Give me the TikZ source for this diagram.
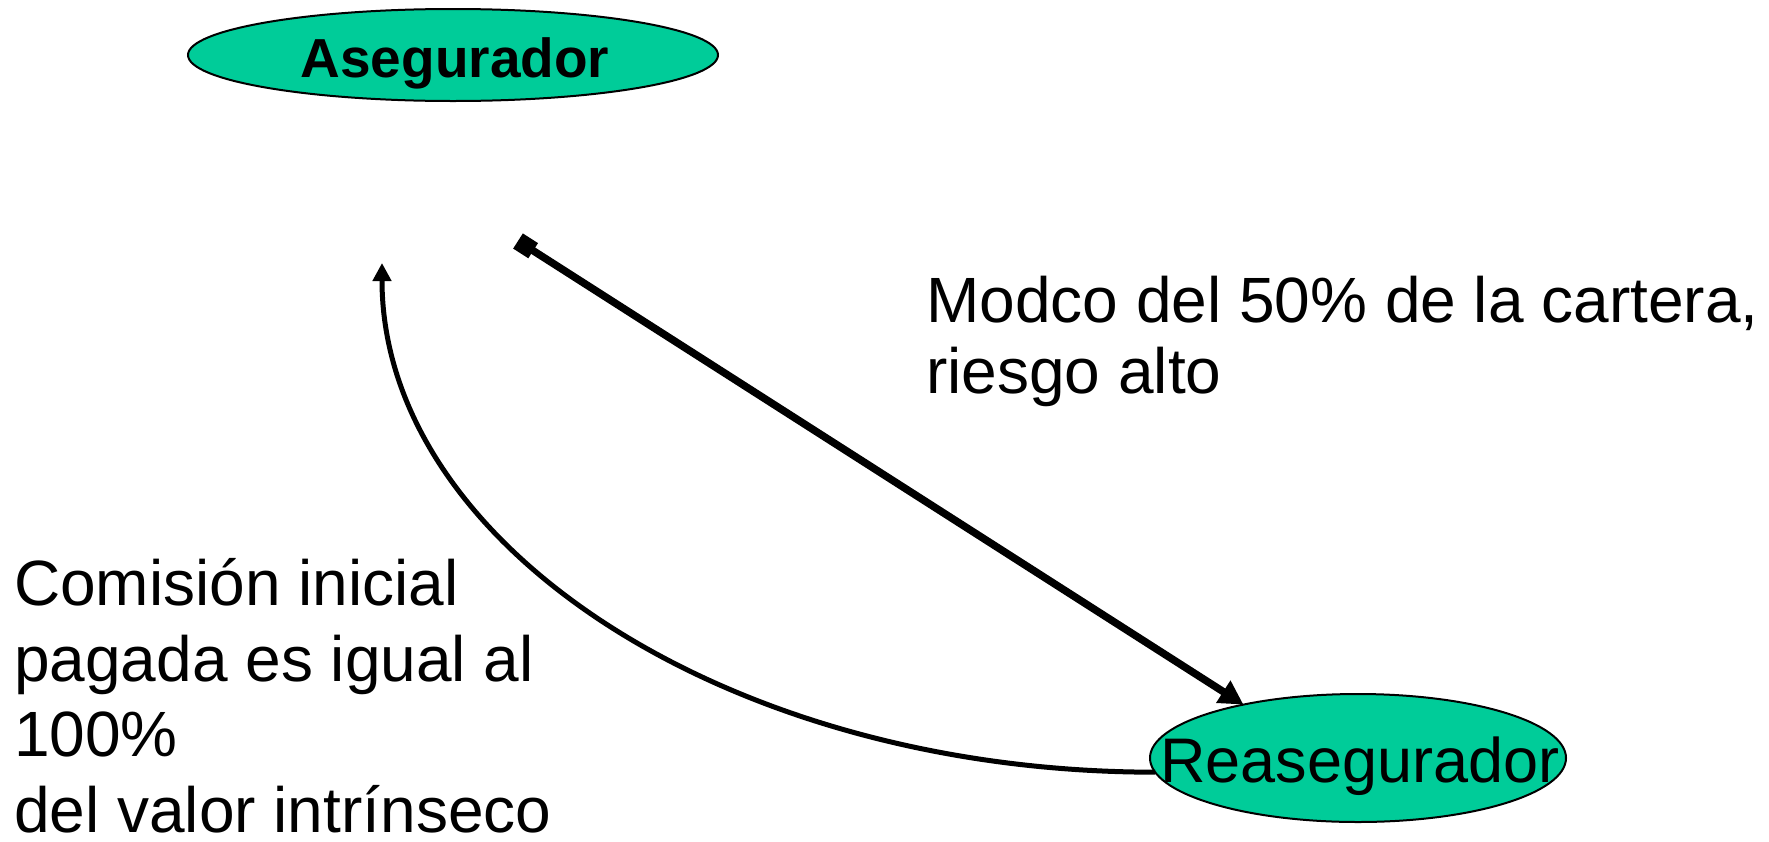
\documentclass[tikz,border=0pt]{standalone}
\usepackage{fontspec}
\setmainfont{Liberation Sans}
\usetikzlibrary{arrows.meta,shapes.geometric}
\definecolor{nodegreen}{HTML}{00CC99}
\begin{document}
\begin{tikzpicture}[x=1pt,y=-1pt,
  oval/.style={ellipse, draw=black, line width=2pt, fill=nodegreen, inner sep=0pt, outer sep=0pt},
  txt/.style={inner sep=0pt, align=left, anchor=base west},
  thickarrow/.style={line width=7.5pt, {Square[length=18pt,width=18pt]}-{Triangle[length=24pt,width=25pt]}},
  thinarrow/.style={line width=5pt, -{Triangle[length=18pt,width=18pt]}}]
\useasboundingbox (0,0) rectangle (1769,841);
\node[oval, minimum width=530pt, minimum height=92pt] (aseg) at (453,55) {};
\node[anchor=base, inner sep=0pt, font=\fontsize{55}{60}\selectfont\bfseries] (asegtext) at (455,77) {Asegurador};
\node[oval, minimum width=416pt, minimum height=128pt] (reas) at (1358,758) {};
\coordinate (sq) at (518,241);
\coordinate (atip) at (382,263);
\draw[thickarrow] (sq) -- (reas.155);
\draw[thinarrow] (reas.184) .. controls (726,772) and (382,544) .. (atip);
\node[anchor=base, inner sep=0pt, font=\fontsize{63}{71}\selectfont] (reastext) at (1360,782) {Reasegurador};
\node[txt, font=\fontsize{64}{71}\selectfont] (modco) at (926,393) {Modco del 50\% de la cartera,\\riesgo alto};
\node[txt, font=\fontsize{64}{75.5}\selectfont] (comision) at (14,832) {Comisión inicial\\pagada es igual al\\100\%\\del valor intrínseco};
\end{tikzpicture}
\end{document}
